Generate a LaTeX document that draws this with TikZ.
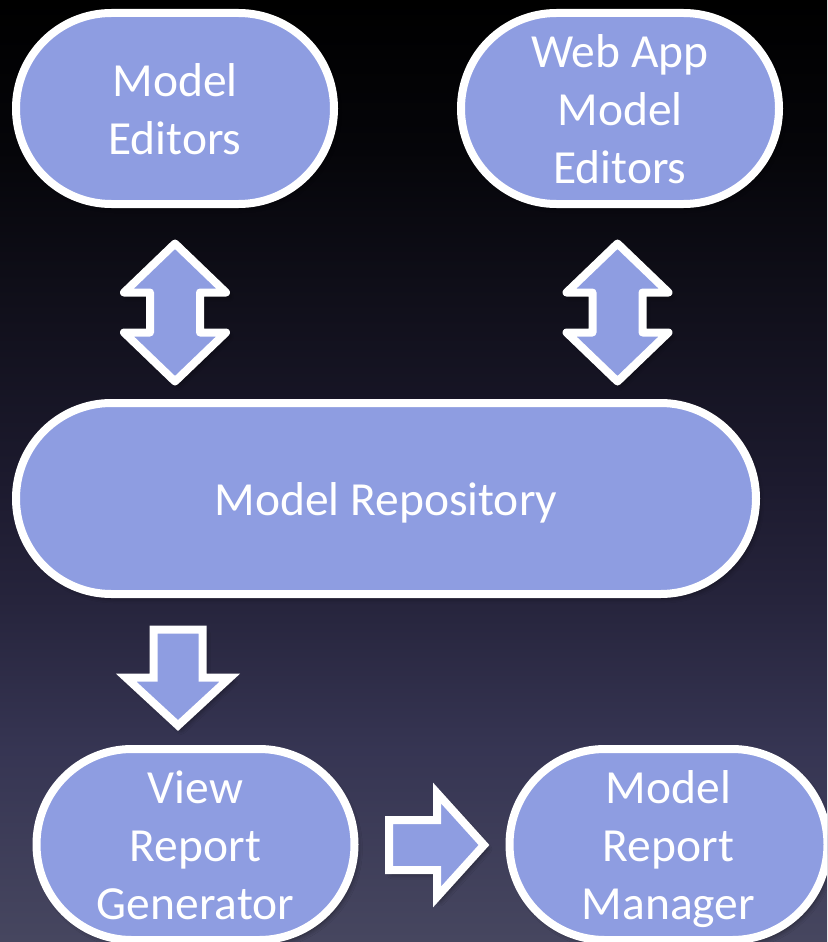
\documentclass[tikz,border=0pt]{standalone}
\usepackage{fontspec}
\setmainfont{Carlito}
\usetikzlibrary{calc,shadows.blur}

\definecolor{boxfill}{RGB}{142,157,225}

% slide background: black at the top fading to slate blue at the bottom
\pgfdeclareverticalshading{slidebg}{827pt}{%
  rgb(0pt)=(0.275,0.275,0.373);
  rgb(192pt)=(0.212,0.208,0.325);
  rgb(342pt)=(0.149,0.141,0.235);
  rgb(462pt)=(0.110,0.102,0.180);
  rgb(642pt)=(0.063,0.059,0.102);
  rgb(792pt)=(0.020,0.020,0.035);
  rgb(942pt)=(0,0,0)}

% struts that fix the height of the first line and depth of the last one
\newcommand\capstrut{\rule{0pt}{44pt}}
\newcommand\descstrut{\rule[-10pt]{0pt}{10pt}}

\tikzset{
  softshadow/.style={blur shadow={shadow xshift=3pt, shadow yshift=-4pt,
      shadow opacity=45, shadow blur steps=6, shadow blur radius=5pt}},
  stage/.style={draw=white, line width=8pt, fill=boxfill, rectangle,
      rounded corners=95.4pt, minimum height=191pt, minimum width=318pt,
      text=white, align=center, inner sep=0pt,
      font=\fontsize{47.5pt}{58pt}\selectfont, softshadow},
  arrowbody/.style={draw=white, line width=8pt, fill=boxfill, softshadow},
  pics/arrowupdown/.style={code={
    \path[arrowbody, line join=round]
      (0,-69) -- (51,-20) -- (25,-20) -- (25,20) -- (51,20) -- (0,69)
      -- (-51,20) -- (-25,20) -- (-25,-20) -- (-51,-20) -- cycle;}},
  pics/arrowdown/.style={code={
    \path[arrowbody, line join=miter]
      (-24.5,0) -- (24.5,0) -- (24.5,48) -- (52,48) -- (0,96)
      -- (-52,48) -- (-24.5,48) -- cycle;}},
  pics/arrowright/.style={code={
    \path[arrowbody, line join=miter]
      (0,-25) -- (48,-25) -- (48,-52) -- (95,0) -- (48,52)
      -- (48,25) -- (0,25) -- cycle;}}
}

\begin{document}
\begin{tikzpicture}[x=1pt,y=-1pt]
  \useasboundingbox (0,0) rectangle (827,942);
  \clip (0,0) rectangle (827,942);
  \node[inner sep=0pt, outer sep=0pt, anchor=north west] (bg) at (0,0)
    {\pgfuseshading{slidebg}};

  % stages
  \node[stage] (ME)  at (175,108.5) {\capstrut Model\\Editors\descstrut};
  \node[stage] (WE)  at (620,108.5) {\capstrut Web App\\Model\\Editors\descstrut};
  \node[stage, minimum width=740pt] (MR) at (386,498.5)
    {\capstrut Model Repository\descstrut};
  \node[stage] (VRG) at (195.5,844.5) {\capstrut View\\Report\\Generator\descstrut};
  \node[stage] (MRM) at (668.5,844.5) {\capstrut Model\\Report\\Manager\descstrut};

  % block arrows between the stages
  \pic (upd1) at ($(ME.south)+(0,104.5)$) {arrowupdown};
  \pic (upd2) at ($(WE.south)+(-2.5,104.5)$) {arrowupdown};
  \pic (dn)   at ($(MR.south -| VRG.north)+(-17.5,31.5)$) {arrowdown};
  \pic (rt)   at ($(VRG.east)+(30.5,0.5)$) {arrowright};
\end{tikzpicture}
\end{document}
